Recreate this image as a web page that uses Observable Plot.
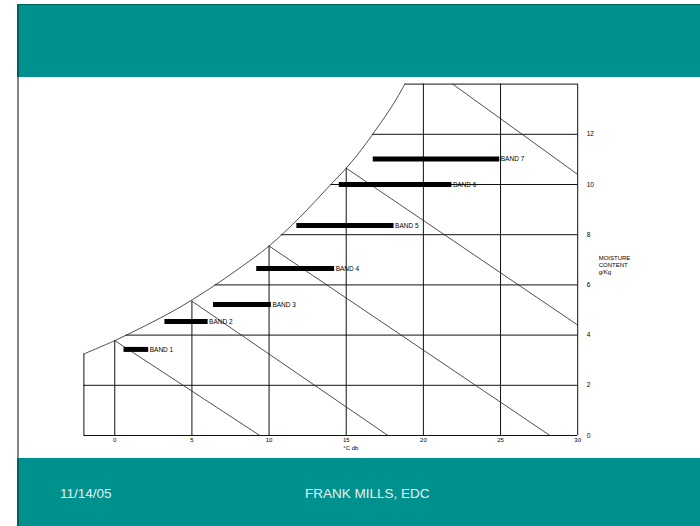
<!DOCTYPE html>
<html><head><meta charset="utf-8">
<script src="https://cdn.jsdelivr.net/npm/d3@7"></script>
<script src="https://cdn.jsdelivr.net/npm/@observablehq/plot@0.6"></script>
<style>
html,body{margin:0;padding:0;background:#fff;width:700px;height:526px;overflow:hidden;font-family:"Liberation Sans",Arial,sans-serif}
#hdr{position:absolute;left:17px;top:4px;width:683px;height:73px;background:#00918f;border-left:2px solid #005f5d;border-top:1px solid #005f5d;box-sizing:border-box}
#vline{position:absolute;left:17px;top:77px;width:2px;height:381px;background:#858585}
#ftr{position:absolute;left:17px;top:458px;width:683px;height:68px;background:#00918f;border-left:2px solid #005f5d;box-sizing:border-box}
.ft{position:absolute;top:487px;color:#e3f2f1;font-size:13.5px;line-height:13.5px;white-space:nowrap}
#chart{position:absolute;left:0;top:0}
</style>
</head><body>
<div id="hdr"></div>
<div id="vline"></div>
<div id="ftr"></div>
<div class="ft" id="date" style="left:60px">11/14/05</div>
<div class="ft" id="author" style="left:305px">FRANK MILLS, EDC</div>
<div id="chart"></div>
<script>
// Bands (dry-bulb temperature range at a given moisture content)
const bandNames = ["BAND 1","BAND 2","BAND 3","BAND 4","BAND 5","BAND 6","BAND 7"];
const bandMoisture = [3.43, 4.54, 5.22, 6.65, 8.37, 10.0, 11.02];
const bandTempStart = [0.6, 3.25, 6.4, 9.2, 11.8, 14.55, 16.75];
const bandTempEnd = [2.2, 6.05, 10.15, 14.25, 18.1, 21.85, 24.95];

// Saturation curve
const satTemp = [-2, 0, 2, 4, 6, 8, 10, 12, 14, 15, 16, 17, 18, 18.8];
const satMoisture = [3.25, 3.78, 4.38, 5.03, 5.79, 6.63, 7.55, 8.7, 10.0, 10.65, 11.4, 12.25, 13.15, 14.0];

// Tick labels
const tempTicks = [0, 5, 10, 15, 20, 25, 30];
const moistureTicks = [0, 2, 4, 6, 8, 10, 12];

// Grid lines
const vGridTemp = [-2, 0, 5, 10, 15, 20, 25, 30];
const vGridTop = [3.25, 3.78, 5.35, 7.55, 10.65, 14, 14, 14];
const hGridMoisture = [0, 2, 4, 6, 8, 10, 12, 14];
const hGridStart = [-2, -2, 0.73, 6.5, 10.8, 14.0, 16.7, 18.8];

// Constant-enthalpy lines
const enthStartTemp = [0, 5, 10, 15, 21.9];
const enthStartMoisture = [3.78, 5.35, 7.55, 10.65, 14];
const enthEndTemp = [9.4, 17.7, 28.2, 30, 30];
const enthEndMoisture = [0, 0, 0, 4.4, 10.4];

const xTitle = ["°C db"];
const xTitleAt = [15];
const yTitle = ["MOISTURE\nCONTENT\ng/Kg"];
const yTitleAt = [6.8];

const bands = bandNames.map((n, i) => ({name: n, w: bandMoisture[i], t1: bandTempStart[i], t2: bandTempEnd[i]}));
const sat = satTemp.map((t, i) => ({t, w: satMoisture[i]}));
const vGrid = vGridTemp.map((t, i) => ({t, top: vGridTop[i]}));
const hGrid = hGridMoisture.map((w, i) => ({w, start: hGridStart[i], end: 30}));
const enth = enthStartTemp.map((t, i) => ({t1: t, w1: enthStartMoisture[i], t2: enthEndTemp[i], w2: enthEndMoisture[i]}));

const fontFam = "'Liberation Sans', Arial, sans-serif";

const chart = Plot.plot({
  width: 700,
  height: 526,
  marginLeft: 83.4,
  marginRight: 122.8,
  marginTop: 83.6,
  marginBottom: 91,
  style: {background: "transparent", color: "#000", fontFamily: fontFam, overflow: "visible"},
  x: {domain: [-2, 30]},
  y: {domain: [0, 14]},
  marks: [
    Plot.ruleX(vGrid, {x: "t", y1: 0, y2: "top", stroke: "#111", strokeWidth: 1}),
    Plot.ruleY(hGrid, {y: "w", x1: "start", x2: "end", stroke: "#111", strokeWidth: 1}),
    Plot.line(sat, {x: "t", y: "w", curve: "catmull-rom", stroke: "#222", strokeWidth: 0.8}),
    Plot.link(enth, {x1: "t1", y1: "w1", x2: "t2", y2: "w2", stroke: "#222", strokeWidth: 0.8}),
    Plot.ruleY(bands, {y: "w", x1: "t1", x2: "t2", stroke: "#000", strokeWidth: 5}),
    Plot.text(bands, {x: "t2", y: "w", text: "name", dx: 1, textAnchor: "start", fontSize: 6.5, fill: "#000"}),
    Plot.axisX(tempTicks, {tickSize: 0, tickPadding: 2.5, fontSize: 6, label: null}),
    Plot.axisY(moistureTicks, {anchor: "right", tickSize: 0, tickPadding: 9, fontSize: 6.5, label: null}),
    Plot.text(xTitle, {x: xTitleAt, frameAnchor: "bottom", dy: 14.5, dx: -3, textAnchor: "start", fontSize: 6, fill: "#000"}),
    Plot.text(yTitle, {y: yTitleAt, frameAnchor: "right", dx: 21, textAnchor: "start", fontSize: 6, lineHeight: 1.17, fill: "#000"})
  ]
});
document.getElementById("chart").appendChild(chart);
</script>
</body></html>
